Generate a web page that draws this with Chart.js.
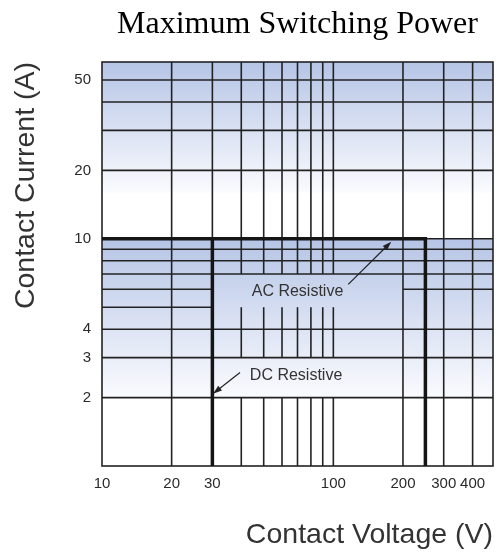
<!DOCTYPE html>
<html>
<head>
<meta charset="utf-8">
<script src="https://cdn.jsdelivr.net/npm/chart.js@4/dist/chart.umd.min.js"></script>
<style>
  html, body { margin: 0; padding: 0; background: #fff; }
  #wrap { width: 501px; height: 553px; }
</style>
</head>
<body>
<div id="wrap"><canvas id="chart" width="501" height="553"></canvas></div>
<script>
// Axis ranges and labelled ticks (log-log)
const voltageRange = [10, 490];
const currentRange = [1, 60];
const voltageTicks = [10, 20, 30, 100, 200, 300, 400];
const currentTicks = [2, 3, 4, 10, 20, 50];

// Grid line values
const voltageGrid = [20, 30, 40, 50, 60, 70, 80, 90, 100, 200, 300, 400];
const currentGrid = [2, 3, 4, 5, 6, 7, 8, 9, 10, 20, 30, 40, 50];

// Minor voltage lines (40..100) are interrupted behind the labels
const minorVoltage = [40, 50, 60, 70, 80, 90, 100];
const minorVoltageSpans = [[1, 2], [3, 5], [7, 60]];
// Current lines that only run over part of the voltage range
const partialCurrentSpans = { 5: [[10, 30]], 6: [[10, 30], [200, 490]] };

// Shaded current bands [low, high]
const shadeBands = [[16, 60], [2, 10]];

// Rating envelopes
const acVoltage = [10, 250, 250];
const acCurrent = [10, 10, 1];
const dcVoltage = [30, 30];
const dcCurrent = [1, 10];

// Callouts: label position, arrow tail, arrow head (voltage, current)
const callouts = [
  { text: 'AC Resistive', at: [70, 5.85], from: [116, 6.3], to: [178, 9.7] },
  { text: 'DC Resistive', at: [69, 2.5], from: [39.5, 2.58], to: [30.2, 2.08] }
];

const toPoints = (xs, ys) => xs.map((v, i) => ({ x: v, y: ys[i] }));

const gridPlugin = {
  id: 'ratingGrid',
  beforeDatasetsDraw(chart) {
    const { ctx, chartArea: a, scales: { x, y } } = chart;
    ctx.save();
    // gradient bands
    for (const [lo, hi] of shadeBands) {
      const yTop = y.getPixelForValue(hi);
      const yBot = y.getPixelForValue(lo);
      const g = ctx.createLinearGradient(0, yTop, 0, yBot);
      g.addColorStop(0, 'rgb(182,197,230)');
      g.addColorStop(1, 'rgb(250,251,254)');
      ctx.fillStyle = g;
      ctx.fillRect(a.left, yTop, a.right - a.left, yBot - yTop);
    }
    ctx.strokeStyle = '#222';
    ctx.lineWidth = 1.6;
    const vLine = (v, c0, c1) => {
      const px = x.getPixelForValue(v);
      ctx.beginPath();
      ctx.moveTo(px, y.getPixelForValue(c0));
      ctx.lineTo(px, y.getPixelForValue(c1));
      ctx.stroke();
    };
    const hLine = (c, v0, v1) => {
      const py = y.getPixelForValue(c);
      ctx.beginPath();
      ctx.moveTo(x.getPixelForValue(v0), py);
      ctx.lineTo(x.getPixelForValue(v1), py);
      ctx.stroke();
    };
    for (const v of voltageGrid) {
      if (minorVoltage.includes(v)) {
        for (const [c0, c1] of minorVoltageSpans) vLine(v, c0, c1);
      } else {
        vLine(v, currentRange[0], currentRange[1]);
      }
    }
    for (const c of currentGrid) {
      const spans = partialCurrentSpans[c] || [voltageRange];
      for (const [v0, v1] of spans) hLine(c, v0, v1);
    }
    ctx.strokeRect(a.left, a.top, a.right - a.left, a.bottom - a.top);
    ctx.restore();
  },
  afterDatasetsDraw(chart) {
    const { ctx, scales: { x, y } } = chart;
    ctx.save();
    ctx.font = '16px "Liberation Sans", Arial, sans-serif';
    ctx.textAlign = 'center';
    ctx.textBaseline = 'middle';
    for (const c of callouts) {
      ctx.fillStyle = '#333';
      ctx.fillText(c.text, x.getPixelForValue(c.at[0]), y.getPixelForValue(c.at[1]));
      const x0 = x.getPixelForValue(c.from[0]), y0 = y.getPixelForValue(c.from[1]);
      const x1 = x.getPixelForValue(c.to[0]), y1 = y.getPixelForValue(c.to[1]);
      const ang = Math.atan2(y1 - y0, x1 - x0);
      ctx.strokeStyle = '#222';
      ctx.lineWidth = 1.2;
      ctx.beginPath();
      ctx.moveTo(x0, y0);
      ctx.lineTo(x1 - 6 * Math.cos(ang), y1 - 6 * Math.sin(ang));
      ctx.stroke();
      ctx.fillStyle = '#222';
      ctx.beginPath();
      ctx.moveTo(x1, y1);
      ctx.lineTo(x1 - 9 * Math.cos(ang) + 3 * Math.sin(ang), y1 - 9 * Math.sin(ang) - 3 * Math.cos(ang));
      ctx.lineTo(x1 - 9 * Math.cos(ang) - 3 * Math.sin(ang), y1 - 9 * Math.sin(ang) + 3 * Math.cos(ang));
      ctx.closePath();
      ctx.fill();
    }
    ctx.restore();
  }
};

const envelopeStyle = {
  showLine: true,
  borderColor: '#151515',
  borderWidth: 3.5,
  pointRadius: 0,
  tension: 0,
  fill: false
};

new Chart(document.getElementById('chart'), {
  type: 'scatter',
  data: {
    datasets: [
      Object.assign({ label: 'AC Resistive', data: toPoints(acVoltage, acCurrent) }, envelopeStyle),
      Object.assign({ label: 'DC Resistive', data: toPoints(dcVoltage, dcCurrent) }, envelopeStyle)
    ]
  },
  options: {
    responsive: false,
    animation: false,
    devicePixelRatio: 1,
    layout: { padding: { left: 0, right: 8, top: 0, bottom: 0 } },
    plugins: {
      legend: { display: false },
      tooltip: { enabled: false },
      title: {
        display: true,
        text: 'Maximum Switching Power',
        fullSize: false,
        color: '#000',
        font: { family: '"Liberation Serif", "Times New Roman", serif', size: 32, weight: 'normal', lineHeight: 1.2 },
        padding: { top: 5.5, bottom: 18.1 }
      }
    },
    scales: {
      x: {
        type: 'logarithmic',
        min: voltageRange[0],
        max: voltageRange[1],
        grid: { display: false, drawTicks: false },
        border: { display: false },
        afterBuildTicks: (s) => { s.ticks = voltageTicks.map(v => ({ value: v })); },
        afterFit: (s) => { s.height = 87; },
        ticks: {
          autoSkip: false, maxRotation: 0, padding: 9, color: '#2a2a2a',
          font: { family: '"Liberation Sans", Arial, sans-serif', size: 15 },
          callback: (v) => String(v)
        },
        title: {
          display: true, text: 'Contact Voltage (V)', align: 'end', color: '#333',
          font: { family: '"Liberation Sans", Arial, sans-serif', size: 28.5, lineHeight: 1.2 },
          padding: { top: 0, bottom: 1 }
        }
      },
      y: {
        type: 'logarithmic',
        min: currentRange[0],
        max: currentRange[1],
        grid: { display: false, drawTicks: false },
        border: { display: false },
        afterBuildTicks: (s) => { s.ticks = currentTicks.map(v => ({ value: v })); },
        afterFit: (s) => { s.width = 102; },
        ticks: {
          autoSkip: false, padding: 11, color: '#2a2a2a',
          font: { family: '"Liberation Sans", Arial, sans-serif', size: 15 },
          callback: (v) => String(v)
        },
        title: {
          display: true, text: 'Contact Current (A)', align: 'end', color: '#333',
          font: { family: '"Liberation Sans", Arial, sans-serif', size: 28.5, lineHeight: 1.2 },
          padding: { top: 9, bottom: 0 }
        }
      }
    }
  },
  plugins: [gridPlugin]
});
</script>
</body>
</html>
